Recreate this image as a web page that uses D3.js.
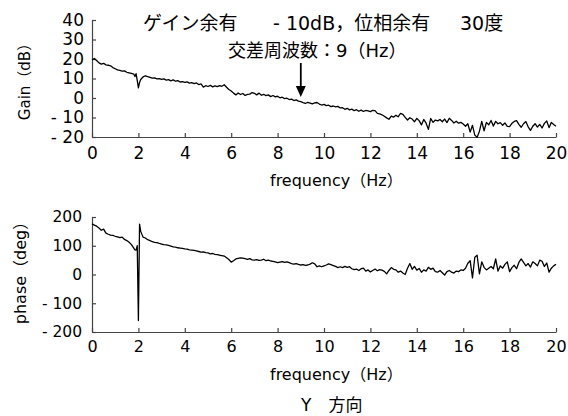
<!DOCTYPE html>
<html>
<head>
<meta charset="utf-8">
<script src="https://cdn.jsdelivr.net/npm/d3@7"></script>
<style>
    body { margin: 0; background: #fff; }
    svg { display: block; font-family: "DejaVu Sans", "Noto Sans CJK JP", sans-serif; }
</style>
</head>
<body>
<svg id="chart"></svg>
<script>
// frequency grid (Hz)
const freqs = [
    0, 0.1, 0.2, 0.3, 0.4, 0.5, 0.6, 0.7, 0.8, 0.9,
    1.0, 1.1, 1.2, 1.3, 1.4, 1.5, 1.6, 1.7, 1.8, 1.85,
    1.9, 1.95, 2.0, 2.05, 2.1, 2.2, 2.3, 2.4, 2.5, 2.6,
    2.7, 2.8, 2.9, 3.0, 3.1, 3.2, 3.3, 3.4, 3.5, 3.6,
    3.7, 3.8, 3.9, 4.0, 4.1, 4.2, 4.3, 4.4, 4.5, 4.6,
    4.7, 4.8, 4.9, 5.0, 5.1, 5.2, 5.3, 5.4, 5.5, 5.6,
    5.7, 5.8, 5.9, 6.0, 6.1, 6.2, 6.3, 6.4, 6.5, 6.6,
    6.7, 6.8, 6.9, 7.0, 7.1, 7.2, 7.3, 7.4, 7.5, 7.6,
    7.7, 7.8, 7.9, 8.0, 8.1, 8.2, 8.3, 8.4, 8.5, 8.6,
    8.7, 8.8, 8.9, 9.0, 9.1, 9.2, 9.3, 9.4, 9.5, 9.6,
    9.7, 9.8, 9.9, 10.0, 10.1, 10.2, 10.3, 10.4, 10.5, 10.6,
    10.7, 10.8, 10.9, 11.0, 11.1, 11.2, 11.3, 11.4, 11.5, 11.6,
    11.7, 11.8, 11.9, 12.0, 12.1, 12.2, 12.3, 12.4, 12.5, 12.6,
    12.7, 12.8, 12.9, 13.0, 13.1, 13.2, 13.3, 13.4, 13.5, 13.6,
    13.7, 13.8, 13.9, 14.0, 14.1, 14.2, 14.3, 14.4, 14.5, 14.6,
    14.7, 14.8, 14.9, 15.0, 15.1, 15.2, 15.3, 15.4, 15.5, 15.6,
    15.7, 15.8, 15.9, 16.0, 16.1, 16.2, 16.3, 16.4, 16.5, 16.6,
    16.7, 16.8, 16.9, 17.0, 17.1, 17.2, 17.3, 17.4, 17.5, 17.6,
    17.7, 17.8, 17.9, 18.0, 18.1, 18.2, 18.3, 18.4, 18.5, 18.6,
    18.7, 18.8, 18.9, 19.0, 19.1, 19.2, 19.3, 19.4, 19.5, 19.6,
    19.7, 19.8, 19.9, 20.0
];

const gainDb = [
    19.5, 20.3, 19.2, 18.0, 17.4, 17.8, 17.0, 16.8, 16.5, 15.6,
    15.0, 14.4, 14.2, 13.8, 13.9, 13.2, 12.9, 12.6, 12.3, 11.0,
    12.5, 9.0, 5.2, 8.0, 9.5, 10.8, 11.4, 11.0, 10.6, 10.2,
    10.3, 9.8, 9.9, 9.5, 9.8, 9.2, 9.4, 8.8, 9.3, 8.6,
    8.9, 8.2, 8.4, 8.0, 8.3, 7.6, 7.9, 7.4, 7.7, 6.9,
    7.2, 5.6, 6.3, 5.9, 6.5, 5.7, 6.2, 5.8, 6.3, 6.0,
    6.8, 5.5, 4.4, 3.6, 2.5, 1.6, 2.6, 1.8, 2.3, 1.3,
    1.9, 2.0, 2.8, 2.4, 1.6, 2.5, 1.4, 1.9, 1.2, 1.6,
    0.7, 1.3, 0.6, 0.9, 0.1, 0.4, -0.3, -0.1, -0.8, -0.6,
    -1.3, -1.0, -1.6, -1.9, -2.4, -2.8, -2.2, -2.6, -3.0, -2.5,
    -2.3, -3.1, -3.6, -3.3, -3.9, -3.7, -4.4, -4.1, -4.6, -4.3,
    -5.1, -5.0, -5.8, -5.3, -6.1, -5.7, -6.5, -6.0, -6.8, -6.2,
    -6.9, -6.4, -6.6, -7.0, -6.3, -6.5, -7.9, -8.2, -8.6, -9.4,
    -10.2, -10.9, -9.3, -9.8, -8.9, -9.6, -7.9, -8.4, -9.9, -11.3,
    -10.1, -10.8, -12.2, -10.5, -11.6, -13.8, -11.0, -12.9, -16.1, -10.5,
    -12.5, -11.3, -11.7, -11.0, -12.2, -10.8, -12.6, -10.4, -11.5, -12.8,
    -11.9, -12.9, -12.5, -13.3, -14.5, -13.2, -17.5, -14.0, -19.0, -20.2,
    -17.0, -12.0, -16.8, -12.5, -13.8, -11.5, -14.4, -12.0, -13.2, -12.6,
    -14.0, -12.8, -14.5, -14.7, -13.0, -12.0, -11.6, -13.5, -15.0, -13.2,
    -12.1, -14.8, -16.6, -14.5, -13.2, -14.9, -13.5, -15.4, -13.0, -11.8,
    -15.2, -12.5, -13.6, -14.5
];

const phaseDeg = [
    176, 172, 168, 162, 154, 158, 144, 140, 137, 136,
    133, 131, 128, 130, 122, 118, 112, 104, 92, 86,
    85, 100, -160, 175, 150, 130, 127, 121, 118, 114,
    112, 111, 108, 106, 104, 103, 101, 99, 96, 95,
    93, 92, 91, 89, 88, 86, 85, 84, 82, 80,
    78, 79, 76, 75, 72, 73, 70, 69, 67, 66,
    64, 58, 52, 43, 48, 54, 56, 58, 57, 55,
    53, 55, 51, 50, 52, 49, 50, 53, 48, 50,
    47, 46, 44, 41, 43, 45, 42, 44, 41, 38,
    36, 38, 35, 33, 34, 32, 33, 36, 41, 37,
    27, 30, 27, 30, 33, 37, 34, 31, 28, 24,
    27, 24, 28, 25, 27, 20, 17, 19, 14, 20,
    22, 12, 16, 9, 14, 19, 13, 17, 15, 11,
    2, 14, 24, 18, 16, 8, 12, 5, 0, 22,
    38, 18, 28, 15, 21, 8, 16, 12, 25, 18,
    22, 10, 8, 14, 6, -2, 10, 14, 8, 5,
    12, 10, 16, 14, 22, 39, 48, -12, 60, 67,
    2, 44, 25, 16, 22, 28, 20, 54, 12, 30,
    22, 35, 44, 10, 24, 32, 20, 42, 54, 42,
    30, 38, 26, 44, 38, 30, 50, 46, 28, 40,
    8, 22, 30, 36
];

const freqTicks = [0, 2, 4, 6, 8, 10, 12, 14, 16, 18, 20];
const gainTicks = [-20, -10, 0, 10, 20, 30, 40];
const phaseTicks = [-200, -100, 0, 100, 200];
const crossFreq = 9;

const width = 568, height = 416;
const svg = d3.select("#chart").attr("width", width).attr("height", height);

const x = d3.scaleLinear().domain([0, 20]).range([92, 556]);
const yGain = d3.scaleLinear().domain([-20, 40]).range([137, 20]);
const yPhase = d3.scaleLinear().domain([-200, 200]).range([332, 217]);

const fmt = d => d < 0 ? "- " + Math.abs(d) : String(d);

function drawPanel(y, values, yTicks, opt) {
    const g = svg.append("g");
    const bottom = y.range()[0];

    g.append("g")
        .attr("transform", `translate(0,${bottom})`)
        .call(d3.axisBottom(x).tickValues(freqTicks).tickSize(-4).tickSizeOuter(0)
            .tickPadding(opt.xPad).tickFormat(d3.format("d")))
        .call(a => a.selectAll("text").style("font-size", opt.xFont + "px"));

    g.append("g")
        .attr("transform", `translate(${x(0)},0)`)
        .call(d3.axisLeft(y).tickValues(yTicks).tickSize(-4).tickSizeOuter(0)
            .tickPadding(opt.yPad).tickFormat(fmt))
        .call(a => a.selectAll("text").style("font-size", opt.yFont + "px"));

    g.selectAll(".domain, .tick line").attr("stroke", "#444").attr("stroke-width", 1.2);
    g.selectAll(".tick text").attr("fill", "#000").style("font-family", "DejaVu Sans");

    const line = d3.line().x((d, i) => x(freqs[i])).y(d => y(d));
    g.append("path")
        .datum(values)
        .attr("fill", "none")
        .attr("stroke", "#000")
        .attr("stroke-width", 1.3)
        .attr("stroke-linejoin", "round")
        .attr("d", line);

    g.append("text")
        .attr("x", 270)
        .attr("y", opt.xLabelY)
        .style("font-size", "16px")
        .text("frequency（Hz）");

    g.append("text")
        .attr("transform", `translate(${opt.yLabelX},${opt.yLabelCy}) rotate(-90)`)
        .attr("text-anchor", "middle")
        .attr("dy", "0.35em")
        .style("font-size", opt.yLabelFont + "px")
        .text(opt.yLabel);
}

drawPanel(yGain, gainDb, gainTicks, {
    xPad: 10, xFont: 17, yPad: 8, yFont: 17,
    xLabelY: 186, yLabelX: 25, yLabelCy: 78, yLabelFont: 15, yLabel: "Gain（dB）"
});

drawPanel(yPhase, phaseDeg, phaseTicks, {
    xPad: 9, xFont: 16, yPad: 10, yFont: 15.5,
    xLabelY: 380, yLabelX: 20, yLabelCy: 269, yLabelFont: 16, yLabel: "phase（deg）"
});

// margin annotation
const title = svg.append("text").attr("y", 30).style("font-size", "19px");
title.append("tspan").attr("x", 143).text("ゲイン余有");
title.append("tspan").attr("x", 273).text("- 10dB，位相余有");
title.append("tspan").attr("x", 460).text("30度");

svg.append("text")
    .attr("x", 228)
    .attr("y", 57)
    .style("font-size", "18px")
    .text("交差周波数：9（Hz）");

// arrow to crossover frequency
const ax = x(crossFreq);
svg.append("line")
    .attr("x1", ax).attr("x2", ax)
    .attr("y1", 63).attr("y2", 88)
    .attr("stroke", "#000").attr("stroke-width", 1.8);
svg.append("path")
    .attr("d", `M${ax - 5},86 L${ax + 5},86 L${ax},97 Z`)
    .attr("fill", "#000");

svg.append("text")
    .attr("x", 301)
    .attr("y", 411)
    .style("font-size", "17px")
    .text("Y　方向");
</script>
</body>
</html>
